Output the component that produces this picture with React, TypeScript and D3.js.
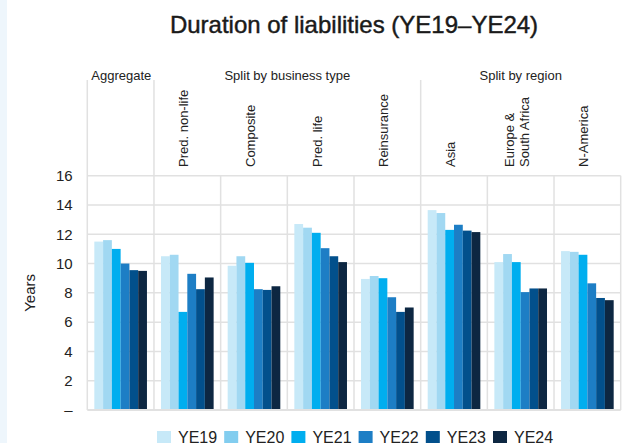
import React from "react";
import * as d3 from "d3";

const categories = ["Aggregate", "Pred. non-life", "Composite", "Pred. life", "Reinsurance", "Asia", "Europe & South Africa", "N-America"];
const categoryLines = [["Aggregate"], ["Pred. non-life"], ["Composite"], ["Pred. life"], ["Reinsurance"], ["Asia"], ["Europe &", "South Africa"], ["N-America"]];
const seriesNames = ["YE19", "YE20", "YE21", "YE22", "YE23", "YE24"];
const ye19 = [11.5, 10.5, 9.85, 12.7, 8.95, 13.65, 10.1, 10.85];
const ye20 = [11.6, 10.6, 10.5, 12.45, 9.15, 13.45, 10.65, 10.8];
const ye21 = [11.0, 6.7, 10.05, 12.1, 9.0, 12.3, 10.1, 10.6];
const ye22 = [10.0, 9.3, 8.25, 11.05, 7.7, 12.65, 8.05, 8.65];
const ye23 = [9.55, 8.25, 8.2, 10.5, 6.7, 12.25, 8.3, 7.65];
const ye24 = [9.5, 9.05, 8.45, 10.1, 7.0, 12.15, 8.3, 7.5];
const seriesValues = [ye19, ye20, ye21, ye22, ye23, ye24];
const colors = ["#c7e9f8", "#a1d8f2", "#00aeef", "#1d7ec5", "#02508c", "#0d2742"];
const legendColors = ["#c7e9f8", "#82cdef", "#00aeef", "#1d7ec5", "#02508c", "#0d2742"];
const yTicks = [0, 2, 4, 6, 8, 10, 12, 14, 16];
const groups = [
  { label: "Aggregate", start: 0, count: 1, align: "start" },
  { label: "Split by business type", start: 1, count: 4, align: "middle" },
  { label: "Split by region", start: 5, count: 3, align: "middle" },
];

const W = 622;
const H = 443;
const FONT = "'Liberation Sans', Arial, Helvetica, sans-serif";

export default function App() {
  const left = 87.3;
  const right = 620.7;
  const top = 175.7;
  const bottom = 410;
  const x = d3.scaleBand<string>().domain(categories).range([left, right]).padding(0);
  const inner = d3.scaleBand<string>().domain(seriesNames).range([0, x.bandwidth()]).paddingInner(0).paddingOuter(0.8);
  const y = d3.scaleLinear().domain([0, 16]).range([bottom, top]);
  const grid = "#e1e1e1";
  const groupStarts = new Set(groups.map((g) => g.start));

  return (
    <div style={{ position: "absolute", left: 0, top: 0, width: W, height: H, overflow: "hidden" }}>
      <svg width={W} height={H} style={{ display: "block", fontFamily: FONT }}>
        <rect x={0} y={0} width={W} height={H} fill="#ffffff" />
        <rect x={0} y={0} width={7} height={H} fill="#eef6fc" />
        <text x={354} y={33} textAnchor="middle" fontSize={24} fill="#1a1a1a" stroke="#1a1a1a" strokeWidth={0.45}>
          Duration of liabilities (YE19–YE24)
        </text>

        {/* horizontal gridlines */}
        {yTicks.map((t) => (
          <line key={"h" + t} x1={left} x2={right} y1={y(t)} y2={y(t)} stroke={grid} strokeWidth={t === 0 ? 2 : 1.5} />
        ))}
        {/* vertical separators */}
        {categories.map((c, i) => (
          <line key={"v" + c} x1={x(c)!} x2={x(c)!} y1={groupStarts.has(i) ? 80 : top} y2={bottom} stroke={grid} strokeWidth={1.5} />
        ))}
        <line x1={right} x2={right} y1={top} y2={bottom} stroke={grid} strokeWidth={1.5} />

        {/* y tick labels */}
        {yTicks.map((t) => (
          <text key={"t" + t} x={72.7} y={y(t) + 5.3} textAnchor="end" fontSize={15} fill="#222">
            {t === 0 ? "–" : String(t)}
          </text>
        ))}
        <text transform={`translate(35,${(top + bottom) / 2}) rotate(-90)`} textAnchor="middle" fontSize={15} fill="#222">
          Years
        </text>

        {/* group headers */}
        {groups.map((g) => {
          const x0 = x(categories[g.start])!;
          const x1 = x0 + x.bandwidth() * g.count;
          return (
            <text key={g.label} x={g.align === "start" ? x0 + 4 : (x0 + x1) / 2} y={79.5} textAnchor={g.align} fontSize={13} fill="#222">
              {g.label}
            </text>
          );
        })}

        {/* rotated category labels */}
        {categories.map((c, i) => {
          if (i === 0) return null;
          const lines = categoryLines[i];
          const cx = x(c)! + x.bandwidth() / 2;
          const lh = 15.5;
          return lines.map((ln, k) => {
            const bx = cx + 1 + (k - (lines.length - 1) / 2) * lh;
            return (
              <text key={c + k} transform={`translate(${bx},167) rotate(-90)`} textAnchor="start" fontSize={13} fill="#222">
                {ln}
              </text>
            );
          });
        })}

        {/* bars */}
        {categories.map((c, i) => (
          <g key={"g" + c} transform={`translate(${x(c)},0)`}>
            {seriesNames.map((s, k) => {
              const v = seriesValues[k][i];
              return (
                <rect key={s} x={inner(s)!} y={y(v)} width={inner.bandwidth()} height={y(0) - y(v) - 1} fill={colors[k]} />
              );
            })}
          </g>
        ))}

        {/* legend */}
        {seriesNames.map((s, k) => {
          const lx = 157 + k * 67.2;
          return (
            <g key={"l" + s}>
              <rect x={lx} y={431} width={14} height={14} fill={legendColors[k]} />
              <text x={lx + 21} y={443} fontSize={16} fill="#222">
                {s}
              </text>
            </g>
          );
        })}
      </svg>
    </div>
  );
}
